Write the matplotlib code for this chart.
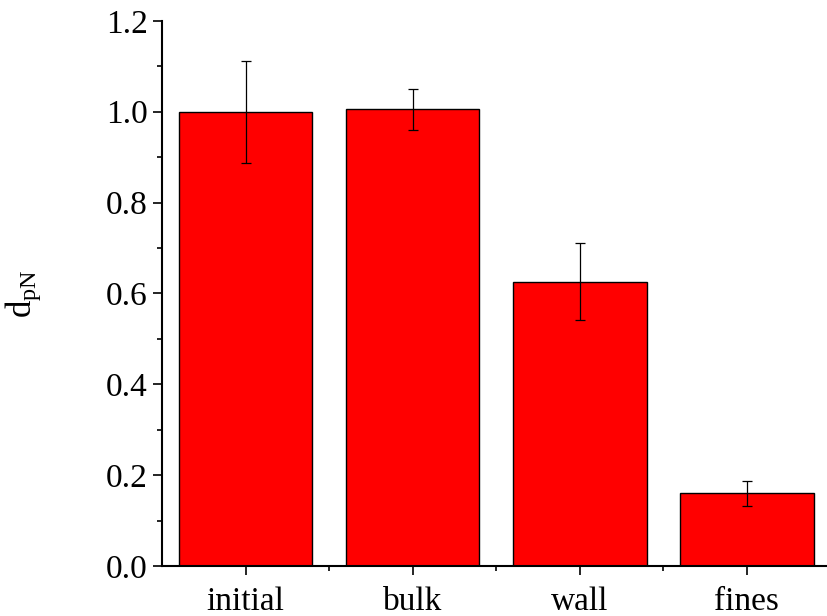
import matplotlib
matplotlib.use("Agg")
import matplotlib.pyplot as plt
from matplotlib.ticker import MultipleLocator, FixedLocator

# ── Data ─────────────────────────────────────────────────────────────────────
categories = ["initial", "bulk", "wall", "fines"]
d_pN       = [1.000, 1.005, 0.626, 0.160]
d_pN_err   = [0.112, 0.046, 0.084, 0.027]

plt.rcParams["font.family"] = ["Liberation Serif", "DejaVu Serif"]
plt.rcParams["mathtext.fontset"] = "custom"
plt.rcParams["mathtext.rm"] = "Liberation Serif"
plt.rcParams["mathtext.it"] = "Liberation Serif:italic"

fig = plt.figure(figsize=(8.27, 6.16), dpi=100)
ax = fig.add_axes([0.196, 0.0812, 0.808, 0.885])

x = range(len(categories))
ax.bar(x, d_pN, width=0.8, color="#ff0000", edgecolor="black", linewidth=1.0,
       zorder=2)
ax.errorbar(x, d_pN, yerr=d_pN_err, fmt="none", ecolor="black",
            elinewidth=0.9, capsize=3.6, capthick=0.9, zorder=3)

ax.set_xlim(-0.5, 3.5)
ax.set_ylim(0.0, 1.2)
ax.set_xticks(list(x))
ax.set_xticklabels(categories)
ax.xaxis.set_minor_locator(FixedLocator([0.5, 1.5, 2.5]))
ax.yaxis.set_major_locator(MultipleLocator(0.2))
ax.yaxis.set_minor_locator(MultipleLocator(0.1))
ax.yaxis.set_major_formatter(plt.FormatStrFormatter("%.1f"))

ax.tick_params(axis="both", which="major", direction="out", length=6.5,
               width=1.2, labelsize=24)
ax.tick_params(axis="y", which="major", pad=4)
ax.tick_params(axis="x", which="major", pad=8)
ax.tick_params(axis="both", which="minor", direction="out", length=3.5,
               width=1.2)

ax.spines[["top", "right"]].set_visible(False)
ax.spines[["left", "bottom"]].set_linewidth(1.5)

ax.set_ylabel(r"$\mathregular{d_{pN}}$", fontsize=25)
ax.yaxis.set_label_coords(-0.178, 0.5)

plt.savefig("out.png", dpi=100)
plt.close(fig)
